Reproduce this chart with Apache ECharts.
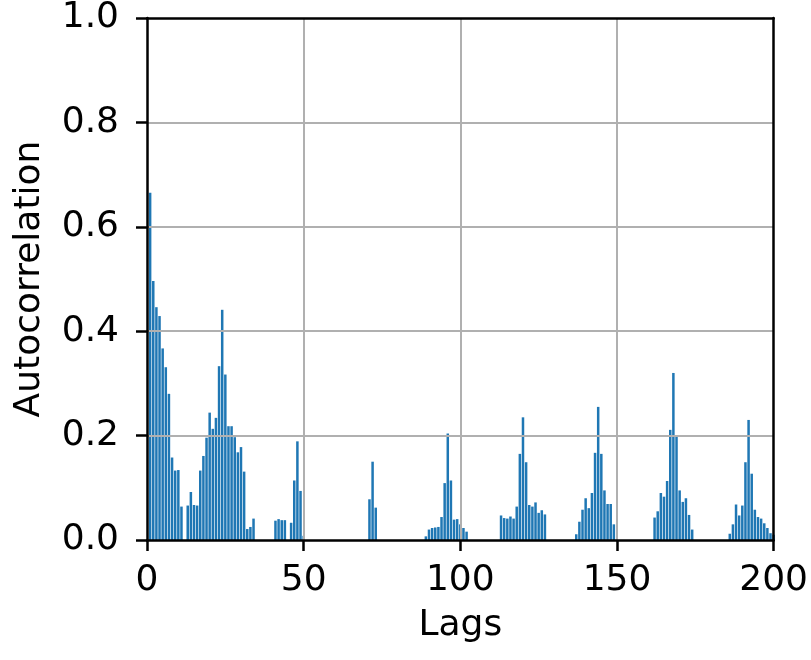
<!DOCTYPE html>
<html>
<head>
<meta charset="utf-8">
<title>Autocorrelation</title>
<script src="https://cdn.jsdelivr.net/npm/echarts@6/dist/echarts.min.js"></script>
<style>
  html, body { margin: 0; padding: 0; background: #fff; }
  #main { width: 811px; height: 660px; }
</style>
</head>
<body>
<div id="main"></div>
<script>
// lag 1..200 (values below 0 are cut by the y range)
const lags = [];
for (let i = 1; i <= 200; i++) lags.push(i);

const acf = [
  // 1-10
  0.665, 0.496, 0.446, 0.429, 0.367, 0.331, 0.280, 0.158, 0.133, 0.134,
  // 11-20
  0.064, 0, 0.066, 0.092, 0.067, 0.066, 0.133, 0.161, 0.196, 0.244,
  // 21-30
  0.213, 0.234, 0.333, 0.441, 0.317, 0.218, 0.218, 0.197, 0.168, 0.178,
  // 31-40
  0.131, 0.021, 0.025, 0.041, 0, 0, 0, 0, 0, 0,
  // 41-50
  0.037, 0.040, 0.038, 0.038, 0, 0.033, 0.114, 0.189, 0.094, 0.008,
  // 51-60
  0, 0, 0, 0, 0, 0, 0, 0, 0, 0,
  // 61-70
  0, 0, 0, 0, 0, 0, 0, 0, 0, 0,
  // 71-80
  0.078, 0.150, 0.062, 0, 0, 0, 0, 0, 0, 0,
  // 81-90
  0, 0, 0, 0, 0, 0, 0, 0, 0.007, 0.020,
  // 91-100
  0.023, 0.024, 0.025, 0.044, 0.109, 0.204, 0.114, 0.039, 0.040, 0.030,
  // 101-110
  0.023, 0.016, 0, 0, 0, 0, 0, 0, 0, 0,
  // 111-120
  0, 0, 0.047, 0.042, 0.041, 0.045, 0.041, 0.064, 0.165, 0.235,
  // 121-130
  0.149, 0.067, 0.064, 0.072, 0.052, 0.057, 0.049, 0, 0, 0,
  // 131-140
  0, 0, 0, 0, 0, 0, 0.011, 0.035, 0.058, 0.080,
  // 141-150
  0.061, 0.090, 0.167, 0.255, 0.165, 0.095, 0.069, 0.069, 0.030, 0,
  // 151-160
  0, 0, 0, 0, 0, 0, 0, 0, 0, 0,
  // 161-170
  0, 0.043, 0.055, 0.090, 0.083, 0.113, 0.211, 0.320, 0.198, 0.095,
  // 171-180
  0.073, 0.080, 0.048, 0.020, 0, 0, 0, 0, 0, 0,
  // 181-190
  0, 0, 0, 0, 0, 0.012, 0.030, 0.068, 0.047, 0.066,
  // 191-200
  0.149, 0.230, 0.127, 0.058, 0.044, 0.041, 0.032, 0.023, 0.013, 0.010
];

const xTicks = [0, 50, 100, 150, 200];
const yTicks = [0.0, 0.2, 0.4, 0.6, 0.8, 1.0];

const font = 'DejaVu Sans';
const myChart = echarts.init(document.getElementById('main'));

const option = {
  animation: false,
  grid: { left: 147, right: 34, top: 18, bottom: 120 },
  xAxis: [
    {
      type: 'value',
      min: xTicks[0],
      max: xTicks[xTicks.length - 1],
      interval: 50,
      name: 'Lags',
      nameLocation: 'middle',
      nameGap: 68,
      nameTextStyle: { fontFamily: font, fontSize: 36, color: '#000' },
      z: 4,
      axisLine: { show: true, onZero: false, lineStyle: { color: '#000', width: 2.5 } },
      axisTick: { show: true, length: 11, lineStyle: { color: '#000', width: 2.5 } },
      axisLabel: { fontFamily: font, fontSize: 36, color: '#000', margin: 23 },
      splitLine: { show: true, showMinLine: false, showMaxLine: false, lineStyle: { color: '#b0b0b0', width: 2 } }
    },
    {
      type: 'value',
      position: 'top',
      min: 0, max: 200,
      z: 4,
      axisLine: { show: true, onZero: false, lineStyle: { color: '#000', width: 2.5 } },
      axisTick: { show: false },
      axisLabel: { show: false },
      splitLine: { show: false }
    }
  ],
  yAxis: [
    {
      type: 'value',
      min: yTicks[0],
      max: yTicks[yTicks.length - 1],
      interval: 0.2,
      name: 'Autocorrelation',
      nameLocation: 'middle',
      nameGap: 99,
      nameTextStyle: { fontFamily: font, fontSize: 36, color: '#000' },
      z: 4,
      axisLine: { show: true, onZero: false, lineStyle: { color: '#000', width: 2.5 } },
      axisTick: { show: true, length: 11, lineStyle: { color: '#000', width: 2.5 } },
      axisLabel: {
        fontFamily: font, fontSize: 36, color: '#000', margin: 28,
        formatter: v => v.toFixed(1)
      },
      splitLine: { show: true, showMinLine: false, showMaxLine: false, lineStyle: { color: '#b0b0b0', width: 2 } }
    },
    {
      type: 'value',
      position: 'right',
      min: 0, max: 1,
      z: 4,
      axisLine: { show: true, onZero: false, lineStyle: { color: '#000', width: 2.5 } },
      axisTick: { show: false },
      axisLabel: { show: false },
      splitLine: { show: false }
    }
  ],
  series: [
    {
      type: 'bar',
      xAxisIndex: 0,
      yAxisIndex: 0,
      barWidth: 2.5,
      z: 2,
      itemStyle: { color: '#1f77b4' },
      data: lags.map((l, i) => [l, acf[i]])
    }
  ]
};
myChart.setOption(option);
</script>
</body>
</html>
